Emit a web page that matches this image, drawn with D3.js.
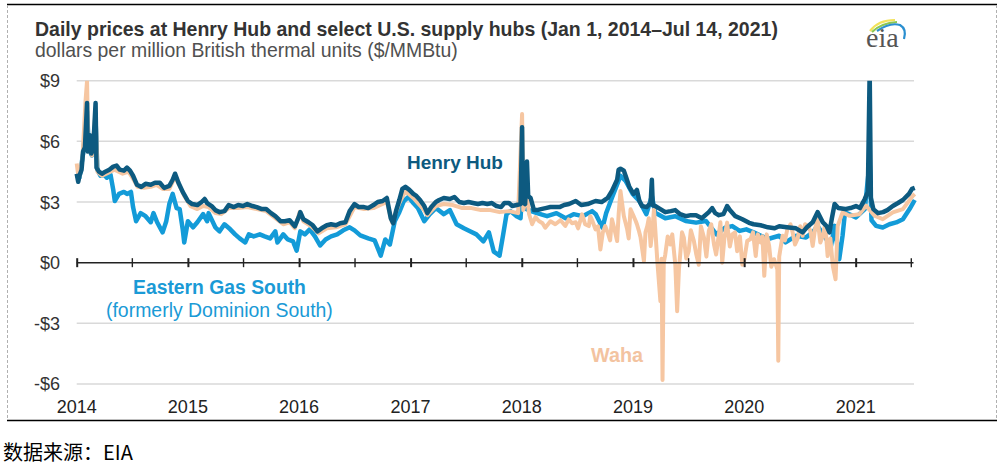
<!DOCTYPE html>
<html><head><meta charset="utf-8">
<script src="https://cdn.jsdelivr.net/npm/d3@7"></script>
<style>body{margin:0;background:#fff;} svg{display:block;font-family:"Liberation Sans",Arial,sans-serif;}</style>
</head><body><svg id="c" width="1004" height="465"></svg>
<script>
// ---------- data ----------
const yTicks = [-6, -3, 0, 3, 6, 9];
const yearLabels = [2014, 2015, 2016, 2017, 2018, 2019, 2020, 2021];
const seriesNames = ["Henry Hub", "Eastern Gas South", "Waha"];

const henryHub = [
["2014-01-01",4.4],["2014-01-06",4.0],["2014-01-10",4.3],["2014-01-17",4.6],["2014-01-22",5.5],["2014-01-28",5.7],
["2014-02-04",7.9],["2014-02-06",5.5],["2014-02-10",5.8],["2014-02-13",6.3],["2014-02-18",5.4],["2014-02-24",5.6],
["2014-03-04",7.9],["2014-03-07",4.7],["2014-03-15",4.5],["2014-03-25",4.4],["2014-04-05",4.5],["2014-04-18",4.6],
["2014-05-01",4.75],["2014-05-12",4.8],["2014-05-22",4.6],["2014-06-05",4.55],["2014-06-15",4.7],["2014-06-25",4.55],
["2014-07-05",4.3],["2014-07-18",3.85],["2014-08-01",3.75],["2014-08-15",3.9],["2014-09-01",3.85],["2014-09-15",3.95],
["2014-10-01",3.95],["2014-10-15",3.7],["2014-11-01",3.8],["2014-11-12",4.1],["2014-11-20",4.4],["2014-12-01",3.95],
["2014-12-15",3.5],["2015-01-01",3.05],["2015-01-15",2.9],["2015-02-01",2.85],["2015-02-15",3.0],["2015-02-25",3.15],
["2015-03-05",2.95],["2015-03-20",2.8],["2015-04-01",2.6],["2015-04-15",2.5],["2015-05-01",2.55],["2015-05-15",2.85],
["2015-06-01",2.75],["2015-06-15",2.85],["2015-07-01",2.8],["2015-07-15",2.9],["2015-08-01",2.8],["2015-08-15",2.75],
["2015-09-01",2.65],["2015-09-15",2.65],["2015-10-01",2.45],["2015-10-15",2.3],["2015-11-01",2.05],["2015-11-15",2.05],
["2015-12-01",2.1],["2015-12-18",1.8],["2016-01-01",2.3],["2016-01-05",2.5],["2016-01-15",2.15],["2016-02-01",2.0],
["2016-02-15",1.85],["2016-03-01",1.55],["2016-03-15",1.7],["2016-04-01",1.85],["2016-04-15",1.9],["2016-05-01",1.85],
["2016-05-15",1.95],["2016-06-01",2.0],["2016-06-15",2.55],["2016-07-01",2.9],["2016-07-15",2.75],["2016-08-01",2.75],
["2016-08-15",2.7],["2016-09-01",2.85],["2016-09-15",3.0],["2016-10-01",3.05],["2016-10-15",3.2],["2016-10-28",2.2],
["2016-11-05",1.95],["2016-11-15",2.6],["2016-11-25",3.1],["2016-12-05",3.65],["2016-12-15",3.75],["2016-12-28",3.6],
["2017-01-10",3.4],["2017-01-20",3.3],["2017-02-01",3.1],["2017-02-15",2.8],["2017-02-25",2.45],["2017-03-10",2.75],
["2017-03-25",3.0],["2017-04-05",3.1],["2017-04-20",3.2],["2017-05-10",3.15],["2017-05-25",3.25],["2017-06-10",3.0],
["2017-06-25",2.95],["2017-07-10",3.0],["2017-07-25",2.95],["2017-08-10",2.9],["2017-08-25",2.95],["2017-09-10",2.9],
["2017-09-25",2.95],["2017-10-10",2.8],["2017-10-25",2.75],["2017-11-05",2.95],["2017-11-20",2.95],["2017-12-01",2.8],
["2017-12-15",2.85],["2017-12-28",2.9],["2018-01-02",6.7],["2018-01-05",3.0],["2018-01-12",2.9],["2018-01-18",5.0],
["2018-01-22",3.3],["2018-01-30",3.2],["2018-02-10",2.6],["2018-02-20",2.6],["2018-03-05",2.65],["2018-03-20",2.7],
["2018-04-05",2.75],["2018-04-20",2.75],["2018-05-05",2.75],["2018-05-20",2.85],["2018-06-05",2.9],["2018-06-27",3.05],
["2018-07-15",2.85],["2018-08-05",2.9],["2018-08-31",3.05],["2018-09-20",3.0],["2018-10-10",3.2],["2018-10-24",3.55],
["2018-11-10",4.1],["2018-11-15",4.6],["2018-11-21",4.65],["2018-12-02",4.55],["2018-12-10",4.2],["2018-12-20",3.75],
["2019-01-03",3.4],["2019-01-14",3.6],["2019-01-22",3.05],["2019-01-31",2.8],["2019-02-15",2.75],["2019-02-28",2.95],
["2019-03-04",4.1],["2019-03-07",2.85],["2019-03-15",2.8],["2019-04-01",2.65],["2019-04-17",2.5],["2019-05-05",2.55],
["2019-05-20",2.6],["2019-06-05",2.4],["2019-06-23",2.3],["2019-07-10",2.35],["2019-07-27",2.35],["2019-08-15",2.2],
["2019-09-07",2.5],["2019-09-18",2.7],["2019-09-28",2.45],["2019-10-10",2.35],["2019-10-25",2.4],["2019-11-06",2.8],
["2019-11-15",2.6],["2019-12-03",2.3],["2019-12-26",2.15],["2020-01-17",1.97],["2020-02-01",1.9],["2020-02-24",1.85],
["2020-03-19",1.75],["2020-04-10",1.7],["2020-04-25",1.8],["2020-05-20",1.75],["2020-06-19",1.7],["2020-07-11",1.5],
["2020-07-25",1.75],["2020-08-13",2.0],["2020-08-29",2.5],["2020-09-15",2.0],["2020-09-28",1.8],["2020-10-07",1.5],
["2020-10-15",2.2],["2020-10-24",2.9],["2020-11-05",2.7],["2020-11-27",2.65],["2020-12-15",2.7],["2021-01-02",2.8],
["2021-01-15",2.7],["2021-01-31",3.15],["2021-02-10",3.5],["2021-02-16",9.5],["2021-02-20",3.2],["2021-02-28",2.65],
["2021-03-15",2.45],["2021-04-01",2.5],["2021-04-15",2.6],["2021-05-03",2.8],["2021-05-20",2.95],["2021-06-05",3.1],
["2021-06-25",3.4],["2021-07-05",3.65],["2021-07-14",3.7]
];

const easternGasSouth = [
["2014-01-01",4.3],["2014-01-10",4.2],["2014-01-22",5.4],["2014-02-04",7.5],["2014-02-10",5.6],["2014-02-20",5.3],
["2014-03-04",7.0],["2014-03-10",4.6],["2014-03-20",4.3],["2014-04-01",4.35],["2014-04-10",4.2],["2014-04-22",4.35],
["2014-05-01",3.6],["2014-05-06",3.05],["2014-05-20",3.4],["2014-06-05",3.5],["2014-06-15",3.4],["2014-06-28",3.5],
["2014-07-05",2.75],["2014-07-15",2.05],["2014-07-30",2.45],["2014-08-15",2.3],["2014-09-01",2.0],["2014-09-10",2.45],
["2014-09-22",2.0],["2014-10-10",1.5],["2014-10-22",2.05],["2014-11-01",2.9],["2014-11-12",3.4],["2014-11-25",2.7],
["2014-12-05",2.65],["2014-12-15",1.65],["2014-12-20",1.0],["2015-01-01",2.05],["2015-01-18",1.75],["2015-02-01",2.0],
["2015-02-20",2.4],["2015-03-05",2.05],["2015-03-10",2.45],["2015-04-01",1.75],["2015-04-15",1.55],["2015-05-01",1.9],
["2015-05-20",1.65],["2015-06-05",1.4],["2015-06-20",1.2],["2015-07-08",1.0],["2015-07-20",1.4],["2015-08-05",1.3],
["2015-08-25",1.4],["2015-09-10",1.3],["2015-09-28",1.2],["2015-10-15",1.55],["2015-10-22",1.0],["2015-11-10",1.4],
["2015-11-25",1.15],["2015-12-12",1.05],["2015-12-24",0.6],["2016-01-05",1.55],["2016-01-20",1.4],["2016-02-05",1.65],
["2016-02-22",1.3],["2016-03-10",0.85],["2016-03-28",1.15],["2016-04-15",1.3],["2016-05-05",1.4],["2016-05-25",1.6],
["2016-06-15",1.75],["2016-07-01",1.6],["2016-07-20",1.35],["2016-08-15",1.2],["2016-09-05",1.1],["2016-09-25",0.35],
["2016-10-10",1.15],["2016-10-25",0.9],["2016-11-10",2.05],["2016-11-25",2.5],["2016-12-10",3.05],["2016-12-25",3.25],
["2017-01-10",2.95],["2017-01-25",2.7],["2017-02-15",2.05],["2017-03-05",2.4],["2017-03-25",2.7],["2017-04-20",2.4],
["2017-05-10",2.6],["2017-06-01",1.9],["2017-06-25",1.7],["2017-07-15",1.55],["2017-08-05",1.4],["2017-08-28",1.05],
["2017-09-15",1.5],["2017-10-01",0.55],["2017-10-20",0.35],["2017-11-01",1.4],["2017-11-12",2.4],["2017-11-25",2.55],
["2017-12-15",2.3],["2017-12-28",2.2],["2018-01-02",3.5],["2018-01-10",2.7],["2018-02-01",2.55],["2018-02-20",2.45],
["2018-03-25",2.3],["2018-04-25",2.45],["2018-05-25",2.2],["2018-06-20",2.4],["2018-07-20",2.3],["2018-08-20",2.55],
["2018-09-01",2.4],["2018-09-23",1.73],["2018-10-05",2.45],["2018-10-24",3.21],["2018-11-21",4.29],["2018-12-08",4.04],
["2018-12-31",3.4],["2019-01-22",3.05],["2019-02-14",2.4],["2019-03-04",3.3],["2019-03-15",2.47],["2019-04-17",2.2],
["2019-05-20",2.3],["2019-06-23",2.06],["2019-07-27",1.98],["2019-08-29",2.06],["2019-10-02",1.4],["2019-10-30",1.73],
["2019-11-23",1.81],["2019-12-17",1.57],["2020-01-08",1.65],["2020-02-01",1.5],["2020-03-19",1.17],["2020-04-25",1.33],
["2020-05-16",1.0],["2020-06-19",1.33],["2020-07-22",1.25],["2020-08-13",1.5],["2020-08-29",1.82],["2020-09-19",1.33],
["2020-10-12",0.83],["2020-10-24",1.82],["2020-11-08",0.17],["2020-11-19",1.33],["2020-11-27",2.49],["2021-01-02",2.24],
["2021-01-31",2.65],["2021-02-16",5.0],["2021-02-22",2.1],["2021-03-09",1.82],["2021-03-31",1.74],["2021-04-22",1.9],
["2021-05-14",1.99],["2021-06-05",2.15],["2021-06-27",2.65],["2021-07-14",3.1]
];

const waha = [
["2014-01-01",4.9],["2014-01-08",4.1],["2014-01-20",5.2],["2014-01-30",8.0],["2014-02-04",9.0],["2014-02-08",5.5],
["2014-02-14",6.0],["2014-02-20",5.3],["2014-03-04",7.5],["2014-03-10",4.5],["2014-03-25",4.3],["2014-04-15",4.45],
["2014-05-05",4.6],["2014-06-01",4.4],["2014-06-20",4.5],["2014-07-05",4.15],["2014-07-20",3.75],["2014-08-10",3.7],
["2014-09-01",3.75],["2014-09-20",3.85],["2014-10-10",3.65],["2014-11-01",3.65],["2014-11-20",4.25],["2014-12-05",3.8],
["2014-12-20",3.3],["2015-01-10",2.8],["2015-02-01",2.65],["2015-02-20",2.8],["2015-03-10",2.75],["2015-04-01",2.45],
["2015-04-20",2.4],["2015-05-15",2.7],["2015-06-15",2.7],["2015-07-15",2.75],["2015-08-15",2.65],["2015-09-15",2.55],
["2015-10-15",2.2],["2015-11-10",1.9],["2015-12-01",2.0],["2015-12-18",1.7],["2016-01-03",2.5],["2016-01-15",2.05],
["2016-02-10",1.8],["2016-03-05",1.45],["2016-04-01",1.7],["2016-05-01",1.75],["2016-06-01",1.9],["2016-07-01",2.75],
["2016-08-01",2.65],["2016-09-01",2.7],["2016-10-01",2.9],["2016-10-15",3.0],["2016-11-01",2.0],["2016-11-25",2.95],
["2016-12-15",3.55],["2017-01-10",3.2],["2017-02-15",2.6],["2017-02-25",2.35],["2017-03-25",2.8],["2017-04-20",2.9],
["2017-05-20",2.85],["2017-06-20",2.7],["2017-07-20",2.7],["2017-08-20",2.6],["2017-09-20",2.6],["2017-10-20",2.5],
["2017-11-20",2.55],["2017-12-20",2.45],["2018-01-02",7.35],["2018-01-06",2.6],["2018-01-18",3.3],["2018-01-25",2.4],
["2018-02-04",1.9],["2018-02-15",2.25],["2018-02-26",2.06],["2018-03-10",1.95],["2018-03-19",1.73],["2018-04-05",2.05],
["2018-04-21",1.9],["2018-05-08",2.1],["2018-05-24",1.82],["2018-06-04",2.14],["2018-06-15",1.95],["2018-06-27",2.0],
["2018-07-05",1.7],["2018-07-18",2.39],["2018-07-28",1.9],["2018-08-09",1.81],["2018-08-14",2.3],["2018-08-20",2.1],
["2018-08-31",1.65],["2018-09-08",1.8],["2018-09-16",0.65],["2018-09-24",1.5],["2018-10-02",1.81],["2018-10-12",1.4],
["2018-10-18",1.1],["2018-10-24",2.15],["2018-11-02",1.6],["2018-11-10",1.07],["2018-11-15",2.4],["2018-11-21",3.55],
["2018-12-02",2.31],["2018-12-13",1.65],["2018-12-18",1.2],["2018-12-24",2.64],["2019-01-03",2.3],["2019-01-10",2.06],
["2019-01-14",1.9],["2019-01-20",1.6],["2019-01-26",1.24],["2019-02-06",0.07],["2019-02-11",1.5],["2019-02-17",1.81],
["2019-02-22",2.2],["2019-02-28",0.82],["2019-03-05",1.5],["2019-03-11",2.64],["2019-03-22",0.07],["2019-04-01",-1.9],
["2019-04-05",0.2],["2019-04-08",-5.8],["2019-04-12",0.0],["2019-04-17",0.4],["2019-04-25",1.3],["2019-05-03",0.9],
["2019-05-10",1.4],["2019-05-20",-0.1],["2019-05-26",-2.4],["2019-06-01",-0.3],["2019-06-06",0.57],["2019-06-11",1.5],
["2019-06-17",1.24],["2019-06-25",0.2],["2019-07-03",0.57],["2019-07-10",1.6],["2019-07-20",1.07],["2019-07-28",0.4],
["2019-08-05",-0.1],["2019-08-12",1.8],["2019-08-22",1.24],["2019-08-30",0.3],["2019-09-07",1.57],["2019-09-15",1.9],
["2019-09-24",0.9],["2019-10-01",0.4],["2019-10-10",1.4],["2019-10-15",2.0],["2019-10-21",0.0],["2019-10-28",1.2],
["2019-11-06",1.98],["2019-11-15",0.8],["2019-11-23",1.4],["2019-12-02",1.5],["2019-12-09",0.57],["2019-12-18",1.3],
["2019-12-26",-0.1],["2020-01-02",0.2],["2020-01-11",1.07],["2020-01-22",1.17],["2020-01-30",1.5],["2020-02-08",0.33],
["2020-02-15",1.4],["2020-02-24",1.0],["2020-03-01",1.3],["2020-03-07",-0.65],["2020-03-15",1.4],["2020-03-23",0.83],
["2020-03-30",-0.2],["2020-04-08",0.17],["2020-04-19",-0.33],["2020-04-22",-4.85],["2020-04-25",0.3],["2020-05-06",1.33],
["2020-05-14",1.1],["2020-05-22",1.67],["2020-06-01",1.9],["2020-06-08",1.5],["2020-06-16",0.9],["2020-06-24",1.17],
["2020-07-03",1.8],["2020-07-11",1.33],["2020-07-19",1.9],["2020-07-27",1.82],["2020-08-05",1.6],["2020-08-13",0.83],
["2020-08-21",1.7],["2020-08-29",2.15],["2020-09-07",1.0],["2020-09-15",1.33],["2020-09-23",1.9],["2020-10-01",0.33],
["2020-10-10",1.2],["2020-10-18",-0.17],["2020-10-27",-0.82],["2020-11-03",1.82],["2020-11-19",2.49],["2020-12-11",2.32],
["2021-01-13",2.4],["2021-02-04",2.82],["2021-03-04",2.32],["2021-03-31",2.15],["2021-05-03",2.49],["2021-06-05",2.65],
["2021-07-07",3.3],["2021-07-14",3.4]
];

// ---------- layout ----------
const parse = d3.timeParse("%Y-%m-%d");
const svg = d3.select("#c");
const x = d3.scaleTime().domain([new Date(2014,0,1), new Date(2021,6,1)]).range([76.7, 910.8]);
const y = d3.scaleLinear().domain([-6, 9]).range([384, 80.7]);
const colors = {"Henry Hub":"#0d5a80","Eastern Gas South":"#139bd8","Waha":"#f6c6a1"};

// frame
svg.append("line").attr("x1",7).attr("x2",997).attr("y1",4.5).attr("y2",4.5).attr("stroke","#000").attr("stroke-width",1.5);
svg.append("line").attr("x1",7).attr("x2",997).attr("y1",420.5).attr("y2",420.5).attr("stroke","#000").attr("stroke-width",1.5);
[7.5, 996.5].forEach(xx => svg.append("line").attr("x1",xx).attr("x2",xx).attr("y1",5).attr("y2",420)
  .attr("stroke","#b0b0b0").attr("stroke-width",1).attr("stroke-dasharray","3,2"));

// gridlines
svg.append("g").selectAll("line").data(yTicks.filter(v => v !== 0)).join("line")
  .attr("x1",76.7).attr("x2",914).attr("y1",d=>y(d)).attr("y2",d=>y(d))
  .attr("stroke","#d9d9d9").attr("stroke-width",1.5);

// y labels
svg.append("g").selectAll("text").data(yTicks).join("text")
  .attr("x",60).attr("y",d=>y(d)).attr("dy","0.36em").attr("text-anchor","end")
  .attr("font-size",18).attr("fill","#333")
  .text(d => (d < 0 ? "-$" : "$") + Math.abs(d));

// series lines
const line = d3.line().x(d => x(parse(d[0]))).y(d => y(d[1]));
svg.append("clipPath").attr("id","clip").append("rect").attr("x",60).attr("y",y(9)).attr("width",880).attr("height",330);
const gl = svg.append("g").attr("clip-path","url(#clip)");
[["Eastern Gas South", easternGasSouth, 4.5], ["Waha", waha, 4], ["Henry Hub", henryHub, 4.5]].forEach(([name, data, w]) => {
  gl.append("path").datum(data).attr("d", line).attr("fill","none")
    .attr("stroke", colors[name]).attr("stroke-width", w).attr("stroke-linejoin","round");
});

// x axis at $0
const y0 = y(0);
const axis = d3.axisBottom(x).tickValues(d3.timeMonth.every(6).range(new Date(2014,0,1), new Date(2021,6,2))).tickFormat("").tickSizeOuter(0);
const ga = svg.append("g").attr("transform",`translate(0,${y0})`).call(axis);
ga.select(".domain").remove();
ga.append("line").attr("x1",76.7).attr("x2",913.5).attr("stroke","#222").attr("stroke-width",1.6);
ga.selectAll(".tick line").attr("y1",-4.5).attr("y2",4.5).attr("stroke","#222")
  .attr("stroke-width", d => d.getMonth() === 0 ? 2 : 1.4);

// year labels
svg.append("g").selectAll("text").data(yearLabels).join("text")
  .attr("x", d => x(new Date(d,0,1))).attr("y",412.7).attr("text-anchor","middle")
  .attr("font-size",18).attr("fill","#222").text(d => d);

// text helper
function fit(sel, target) {
  const w = sel.node().getComputedTextLength();
  const fs = parseFloat(sel.attr("font-size"));
  sel.attr("font-size", (fs * target / w).toFixed(2));
  return sel;
}
fit(svg.append("text").attr("x",35).attr("y",36).attr("font-size",17).attr("font-weight","bold").attr("fill","#333")
  .text("Daily prices at Henry Hub and select U.S. supply hubs (Jan 1, 2014\u2013Jul 14, 2021)"), 743);
fit(svg.append("text").attr("x",35).attr("y",56.5).attr("font-size",17).attr("fill","#505050")
  .text("dollars per million British thermal units ($/MMBtu)"), 423);

// series labels
fit(svg.append("text").attr("x",407).attr("y",169.3).attr("font-size",19).attr("font-weight","bold").attr("fill",colors["Henry Hub"]).text(seriesNames[0]), 96);
fit(svg.append("text").attr("x",133).attr("y",294.3).attr("font-size",19).attr("font-weight","bold").attr("fill","#1a9ad6").text(seriesNames[1]), 173);
fit(svg.append("text").attr("x",106).attr("y",317).attr("font-size",18).attr("fill","#1a9ad6").text("(formerly Dominion South)"), 227);
fit(svg.append("text").attr("x",591).attr("y",362).attr("font-size",19).attr("font-weight","bold").attr("fill","#f3c3a0").text(seriesNames[2]), 52);

// eia logo
const logo = svg.append("g");
logo.append("path").attr("d","M870,31 Q878,20 895,20").attr("fill","none").attr("stroke","#f2e25a").attr("stroke-width",2.2);
logo.append("path").attr("d","M872,32 Q881,23 897,22").attr("fill","none").attr("stroke","#8cc751").attr("stroke-width",2.2);
logo.append("path").attr("d","M877,31 Q890,22 900,25 Q907,29 904,39").attr("fill","none").attr("stroke","#2a8fd0").attr("stroke-width",2.2);
logo.append("text").attr("x",866).attr("y",46.7).attr("font-family","'Liberation Serif','DejaVu Serif',serif")
  .attr("font-size",28).attr("fill","#555").text("eia");

// footer
svg.append("text").attr("x",3).attr("y",460).attr("font-family","'Noto Sans CJK SC','Noto Sans',sans-serif")
  .attr("font-size",20).attr("fill","#000").text("数据来源：EIA");
</script></body></html>
